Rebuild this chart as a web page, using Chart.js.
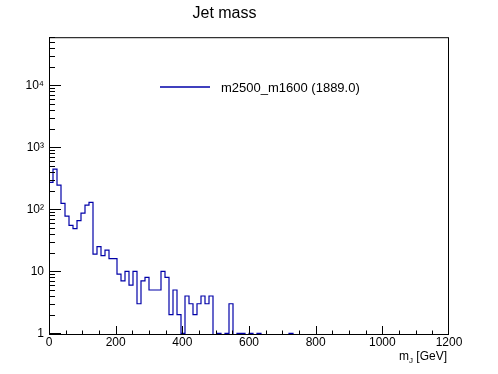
<!DOCTYPE html>
<html>
<head>
<meta charset="utf-8">
<title>Jet mass</title>
<script src="https://cdn.jsdelivr.net/npm/chart.js@4/dist/chart.umd.min.js"></script>
<style>
  html, body { margin: 0; padding: 0; background: #fff; }
</style>
</head>
<body>
<canvas id="jet-mass-chart" width="498" height="374"></canvas>
<script>
// Jet mass histogram, 100 bins of 12 GeV between 0 and 1200 GeV
const binWidth = 12;
const counts = [
  272, 447, 247, 125, 78, 55, 49, 66, 87, 117,
  130, 19, 25, 18, 22, 16, 16, 9, 7, 10,
  6, 10, 3, 7, 8, 5, 5, 5, 10, 8,
  2, 5, 2, 1, 4, 3, 2, 3, 4, 3,
  4, 0, 1, 0, 1, 3, 0, 1, 1, 0,
  1, 0, 1, 0, 0, 0, 0, 0, 0, 0,
  1, 0, 0, 0, 0, 0, 0, 0, 0, 0,
  0, 0, 0, 0, 0, 0, 0, 0, 0, 0,
  0, 0, 0, 0, 0, 0, 0, 0, 0, 0,
  0, 0, 0, 0, 0, 0, 0, 0, 0, 0,
];
const seriesLabel = "m2500_m1600 (1889.0)";
const xTicks = [0, 200, 400, 600, 800, 1000, 1200];
const yTicks = [1, 10, 100, 1000, 10000];
const yTickLabels = ["1", "10", "10\u00b2", "10\u00b3", "10\u2074"];
const yMin = 0.94;
const yMax = 60000;

const FONT = "'Liberation Sans', Arial, Helvetica, sans-serif";
const LINE_COLOR = "#0000a8";

// step outline: start on the axis, then one point per bin upper edge
// (empty bins sit on the lower edge of the log axis)
const points = [{ x: 0, y: yMin }];
counts.forEach((c, i) => {
  points.push({ x: (i + 1) * binWidth, y: c > 0 ? c : yMin });
});

// ROOT-like frame, inward ticks, legend and axis title
const rootFrame = {
  id: "rootFrame",
  afterDatasetsDraw(chart) {
    const { ctx, chartArea: a, scales } = chart;
    const x = scales.x, y = scales.y;
    ctx.save();
    ctx.strokeStyle = "#000";
    ctx.lineWidth = 1;
    ctx.strokeRect(a.left + 0.5, a.top + 0.5, a.right - a.left - 1, a.bottom - a.top - 1);

    ctx.beginPath();
    for (let v = 50; v < 1200; v += 50) {
      const px = Math.round(x.getPixelForValue(v)) + 0.5;
      const len = v % 200 === 0 ? 9 : 4.5;
      ctx.moveTo(px, a.bottom);
      ctx.lineTo(px, a.bottom - len);
    }
    for (let d = 1; d <= 10000; d *= 10) {
      for (let m = 1; m < 10; m++) {
        const v = m * d;
        if (v < yMin || v > yMax) continue;
        const py = Math.round(y.getPixelForValue(v)) + 0.5;
        const len = m === 1 ? 12 : 6;
        ctx.moveTo(a.left, py);
        ctx.lineTo(a.left + len, py);
      }
    }
    ctx.stroke();

    // legend
    const ds = chart.data.datasets[0];
    ctx.strokeStyle = ds.borderColor;
    ctx.lineWidth = 1.3;
    ctx.beginPath();
    ctx.moveTo(160, 87);
    ctx.lineTo(210, 87);
    ctx.stroke();
    ctx.fillStyle = "#000";
    ctx.font = "13px " + FONT;
    ctx.textBaseline = "middle";
    ctx.textAlign = "left";
    ctx.fillText(ds.label, 221, 88);

    // x axis title m_J [GeV], right aligned on the frame
    ctx.textBaseline = "alphabetic";
    ctx.font = "12px " + FONT;
    const wm = ctx.measureText("m").width;
    const rest = " [GeV]";
    const wr = ctx.measureText(rest).width;
    ctx.font = "8px " + FONT;
    const wj = ctx.measureText("J").width;
    let tx = 447 - (wm + wj + wr);
    ctx.font = "12px " + FONT;
    ctx.fillText("m", tx, 360);
    ctx.font = "8px " + FONT;
    ctx.fillText("J", tx + wm, 362.5);
    ctx.font = "12px " + FONT;
    ctx.fillText(rest, tx + wm + wj, 360);
    ctx.restore();
  },
};

const ctx = document.getElementById("jet-mass-chart").getContext("2d");
new Chart(ctx, {
  type: "line",
  data: {
    datasets: [
      {
        label: seriesLabel,
        data: points,
        stepped: "after",
        borderColor: LINE_COLOR,
        borderWidth: 1.2,
        pointRadius: 0,
        fill: false,
      },
    ],
  },
  options: {
    responsive: false,
    animation: false,
    devicePixelRatio: 1,
    layout: { padding: { left: 0, right: 49, top: 0, bottom: 0 } },
    plugins: {
      legend: { display: false },
      tooltip: { enabled: false },
      title: {
        display: true,
        text: "Jet mass",
        color: "#000",
        font: { family: FONT, size: 16, weight: "normal" },
        padding: { top: 4, bottom: 14 },
      },
    },
    scales: {
      x: {
        type: "linear",
        min: 0,
        max: 1200,
        grid: { display: false, drawTicks: false },
        border: { display: false },
        afterBuildTicks: (scale) => {
          scale.ticks = xTicks.map((v) => ({ value: v }));
        },
        afterFit: (scale) => {
          scale.height = 39;
        },
        ticks: {
          autoSkip: false,
          maxRotation: 0,
          padding: 0,
          color: "#000",
          font: { family: FONT, size: 12 },
          callback: (v) => String(v),
        },
      },
      y: {
        type: "logarithmic",
        min: yMin,
        max: yMax,
        grid: { display: false, drawTicks: false },
        border: { display: false },
        afterBuildTicks: (scale) => {
          scale.ticks = yTicks.map((v) => ({ value: v }));
        },
        afterFit: (scale) => {
          scale.width = 49;
        },
        ticks: {
          autoSkip: false,
          padding: 5,
          color: "#000",
          font: { family: FONT, size: 12 },
          callback: (v) => {
            const i = yTicks.indexOf(v);
            return i >= 0 ? yTickLabels[i] : "";
          },
        },
      },
    },
  },
  plugins: [rootFrame],
});
</script>
</body>
</html>
